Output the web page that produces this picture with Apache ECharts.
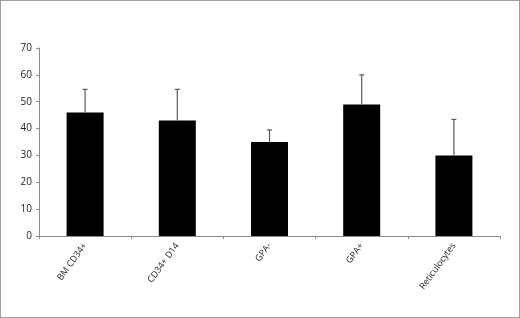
<!DOCTYPE html>
<html>
<head>
<meta charset="utf-8">
<script src="https://cdn.jsdelivr.net/npm/echarts@6/dist/echarts.min.js"></script>
<style>
html, body { margin: 0; padding: 0; background: #fff; }
#chart { width: 518px; height: 316px; border: 1px solid #a0a0a0; }
</style>
</head>
<body>
<div id="chart"></div>
<script>
// categories and values
var categories = ['BM CD34+', 'CD34+ D14', 'GPA-', 'GPA+', 'Reticulocytes'];
var means = [46, 43, 35, 49, 30];
var errTops = [54.6, 54.6, 39.5, 60, 43.4];

var errData = [];
for (var i = 0; i < categories.length; i++) {
	errData.push([i, means[i], errTops[i]]);
}

var myChart = echarts.init(document.getElementById('chart'));
var option = {
	animation: false,
	textStyle: { fontFamily: 'Open Sans' },
	grid: { left: 38, right: 19, top: 47, bottom: 81 },
	xAxis: {
		type: 'category',
		data: categories,
		axisLine: { lineStyle: { color: '#8c8c8c', width: 1 } },
		axisTick: { show: true, length: 3, lineStyle: { color: '#8c8c8c' } },
		axisLabel: { rotate: 54, fontSize: 9, color: '#222', margin: 8 }
	},
	yAxis: {
		type: 'value',
		min: 0,
		max: 70,
		interval: 10,
		splitLine: { show: false },
		axisLine: { show: true, lineStyle: { color: '#8c8c8c', width: 1 } },
		axisTick: { show: true, length: 3, lineStyle: { color: '#8c8c8c' } },
		axisLabel: { fontSize: 10, color: '#222', margin: 7 }
	},
	series: [
		{
			type: 'bar',
			data: means,
			barWidth: 37,
			itemStyle: { color: '#000' },
			z: 2
		},
		{
			type: 'custom',
			data: errData,
			z: 3,
			renderItem: function (params, api) {
				var x = api.value(0);
				var base = api.coord([x, api.value(1)]);
				var top = api.coord([x, api.value(2)]);
				return {
					type: 'group',
					children: [
						{
							type: 'line',
							shape: { x1: base[0], y1: base[1], x2: top[0], y2: top[1] },
							style: { stroke: '#5a5a5a', lineWidth: 1.2 }
						},
						{
							type: 'line',
							shape: { x1: top[0] - 2.5, y1: top[1], x2: top[0] + 2.5, y2: top[1] },
							style: { stroke: '#5a5a5a', lineWidth: 1.2 }
						}
					]
				};
			}
		}
	]
};
myChart.setOption(option);
</script>
</body>
</html>
